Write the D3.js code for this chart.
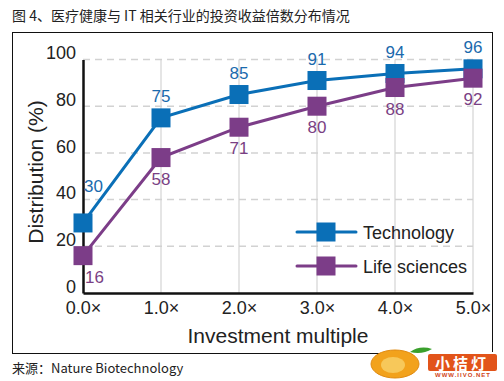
<!DOCTYPE html>
<html><head><meta charset="utf-8">
<script src="https://cdn.jsdelivr.net/npm/d3@7"></script>
<style>body{margin:0;background:#fff}svg{display:block}</style>
</head><body>
<script>
const multiples = [0, 1, 2, 3, 4, 5];
const xTickLabels = ["0.0×", "1.0×", "2.0×", "3.0×", "4.0×", "5.0×"];
const yTicks = [0, 20, 40, 60, 80, 100];
const technology = [30, 75, 85, 91, 94, 96];
const lifeSciences = [16, 58, 71, 80, 88, 92];
const seriesNames = ["Technology", "Life sciences"];
const seriesColors = ["#0a6fb7", "#7c3d88"];
const labelColors = ["#1a6aad", "#7a3f84"];
const titleText = "图 4、医疗健康与 IT 相关行业的投资收益倍数分布情况";
const sourceText = "来源：Nature Biotechnology";

const W = 504, H = 381;
const svg = d3.select("body").append("svg").attr("width", W).attr("height", H);
const font = "'Liberation Sans', Arial, Helvetica, sans-serif";

svg.append("text").attr("x", 12).attr("y", 21).attr("font-family", "'Noto Sans CJK SC', sans-serif")
  .attr("font-size", 14).attr("fill", "#222").text(titleText);
svg.append("rect").attr("x", 12.5).attr("y", 32.5).attr("width", 480).attr("height", 321)
  .attr("fill", "none").attr("stroke", "#111").attr("stroke-width", 1);
svg.append("text").attr("x", 12).attr("y", 373).attr("font-family", "'Noto Sans CJK SC', sans-serif")
  .attr("font-size", 13).attr("fill", "#222").text(sourceText);

const x = d3.scaleLinear().domain([0, 5]).range([83, 473]);
const y = d3.scaleLinear().domain([0, 100]).range([293, 59.5]);

const g = svg.append("g");
// vertical gridlines
g.selectAll(".vg").data(multiples.slice(1)).join("line")
  .attr("x1", d => x(d)).attr("x2", d => x(d)).attr("y1", y(0)).attr("y2", y(100))
  .attr("stroke", "#dcdcdc").attr("stroke-width", 1.5);
// horizontal dashed gridlines
g.selectAll(".hg").data(yTicks.slice(1)).join("line")
  .attr("x1", x(0)).attr("x2", x(5)).attr("y1", d => y(d)).attr("y2", d => y(d))
  .attr("stroke", "#d2d2d2").attr("stroke-width", 1.5).attr("stroke-dasharray", "7,5");

// axes
const yAxis = d3.axisLeft(y).tickValues(yTicks).tickSize(0).tickPadding(7);
const ya = g.append("g").attr("transform", `translate(${x(0)},0)`).call(yAxis);
ya.select(".domain").attr("stroke", "#111").attr("stroke-width", 2.5);
ya.selectAll("text").attr("font-family", font).attr("font-size", 18).attr("fill", "#222").attr("dy", "-0.05em");

const xAxis = d3.axisBottom(x).tickValues(multiples).tickFormat((d, i) => xTickLabels[i]).tickSize(0).tickPadding(8);
const xa = g.append("g").attr("transform", `translate(0,${y(0)})`).call(xAxis);
xa.select(".domain").attr("stroke", "#111").attr("stroke-width", 2.5);
xa.selectAll("text").attr("font-family", font).attr("font-size", 18).attr("fill", "#222");

svg.append("text").attr("x", 278).attr("y", 343).attr("text-anchor", "middle")
  .attr("font-family", font).attr("font-size", 21).attr("fill", "#222").text("Investment multiple");
svg.append("text").attr("transform", "translate(43,172) rotate(-90)").attr("text-anchor", "middle")
  .attr("font-family", font).attr("font-size", 21).attr("fill", "#222").text("Distribution (%)");

const series = [technology, lifeSciences];
const line = d3.line().x((d, i) => x(multiples[i])).y(d => y(d));
const ms = 19;
series.forEach((vals, si) => {
  g.append("path").datum(vals).attr("d", line).attr("fill", "none")
    .attr("stroke", seriesColors[si]).attr("stroke-width", 3);
});
series.forEach((vals, si) => {
  g.selectAll(".m" + si).data(vals).join("rect")
    .attr("x", (d, i) => x(multiples[i]) - ms / 2).attr("y", d => y(d) - ms / 2)
    .attr("width", ms).attr("height", ms).attr("fill", seriesColors[si]);
});
// labels
g.selectAll(".lt").data(technology).join("text")
  .attr("x", (d, i) => i === 0 ? x(multiples[i]) + 1 : x(multiples[i]))
  .attr("y", (d, i) => i === 0 ? y(d) - 31 : y(d) - 16)
  .attr("text-anchor", (d, i) => i === 0 ? "start" : "middle")
  .attr("font-family", font).attr("font-size", 17).attr("fill", labelColors[0]).text(d => d);
g.selectAll(".ll").data(lifeSciences).join("text")
  .attr("x", (d, i) => i === 0 ? x(multiples[i]) + 2 : x(multiples[i]))
  .attr("y", d => y(d) + 27)
  .attr("text-anchor", (d, i) => i === 0 ? "start" : "middle")
  .attr("font-family", font).attr("font-size", 17).attr("fill", labelColors[1]).text(d => d);

// legend
const legY = [232, 266];
seriesNames.forEach((name, si) => {
  const lg = svg.append("g");
  lg.append("line").attr("x1", 297).attr("x2", 356).attr("y1", legY[si]).attr("y2", legY[si])
    .attr("stroke", seriesColors[si]).attr("stroke-width", 3).attr("stroke-linecap", "round");
  lg.append("rect").attr("x", 326 - ms / 2).attr("y", legY[si] - ms / 2).attr("width", ms).attr("height", ms)
    .attr("fill", seriesColors[si]);
  lg.append("text").attr("x", 363).attr("y", legY[si] + 7).attr("font-family", font)
    .attr("font-size", 18).attr("fill", "#222").text(name);
});

// watermark logo
const wm = svg.append("g");
wm.append("rect").attr("x", 404).attr("y", 352).attr("width", 100).attr("height", 29).attr("fill", "#fff");
wm.append("rect").attr("x", 428).attr("y", 354).attr("width", 69).attr("height", 17).attr("rx", 2).attr("fill", "#e2541a");
wm.append("ellipse").attr("cx", 395).attr("cy", 364).attr("rx", 24).attr("ry", 14).attr("fill", "#f2a21c").attr("stroke", "#e08a10");
wm.append("ellipse").attr("cx", 393).attr("cy", 365).attr("rx", 12).attr("ry", 8).attr("fill", "#f7c85a");
wm.append("path").attr("d", "M410 352 Q420 345 432 349 Q422 355 410 352Z").attr("fill", "#3aa02c");
wm.append("text").attr("x", 462).attr("y", 369).attr("text-anchor", "middle").attr("font-family", "'Noto Sans CJK SC', sans-serif")
  .attr("font-weight", "bold").attr("font-size", 15).attr("fill", "#fff").attr("letter-spacing", 3).text("小桔灯");
wm.append("text").attr("x", 463).attr("y", 377).attr("text-anchor", "middle").attr("font-family", font)
  .attr("font-weight", "bold").attr("font-size", 6).attr("fill", "#d0451a").attr("letter-spacing", 1).text("WWW.IIVO.NET");
</script>
</body></html>
